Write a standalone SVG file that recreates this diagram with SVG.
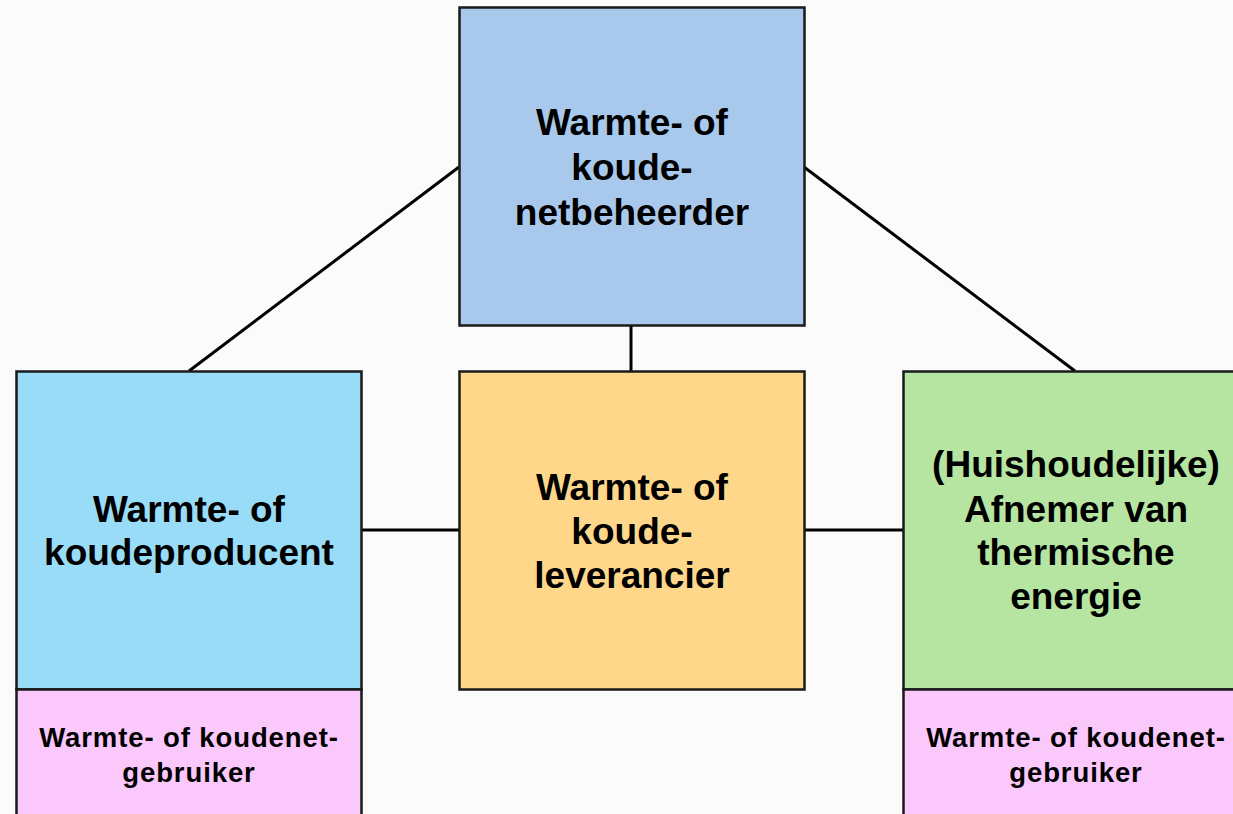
<svg xmlns="http://www.w3.org/2000/svg" width="1233" height="814" viewBox="0 0 1233 814">
<style>
.box{stroke:#1a1a1a;stroke-width:2.5}
.t{font-family:"Liberation Sans",Arial,sans-serif;font-weight:bold;font-size:37px;fill:#000;text-anchor:middle}
.s{font-family:"Liberation Sans",Arial,sans-serif;font-weight:bold;font-size:27.5px;letter-spacing:0.9px;fill:#000;text-anchor:middle}
.c{stroke:#000;stroke-width:3;fill:none}
</style>
<rect width="1233" height="814" fill="#fbfbfb"/>
<g id="connectors">
<line class="c" x1="459" y1="167" x2="189" y2="371"/>
<line class="c" x1="804" y1="167" x2="1075" y2="371"/>
<line class="c" x1="631" y1="325" x2="631" y2="371"/>
<line class="c" x1="361" y1="530" x2="459" y2="530"/>
<line class="c" x1="804" y1="530" x2="903" y2="530"/>
</g>
<g id="netbeheerder">
<rect class="box" x="459.5" y="7.5" width="345" height="318" fill="#a8c9ec"/>
<text class="t" x="632" y="135">Warmte- of</text>
<text class="t" x="632" y="180">koude-</text>
<text class="t" x="632" y="225">netbeheerder</text>
</g>
<g id="producent">
<rect class="box" x="16.5" y="371.5" width="345" height="318" fill="#99dcf7"/>
<text class="t" x="189" y="521.5">Warmte- of</text>
<text class="t" x="189" y="565">koudeproducent</text>
</g>
<g id="producent-gebruiker">
<rect class="box" x="16.5" y="689.5" width="345" height="140" fill="#fbc8fb"/>
<text class="s" x="189" y="746.5">Warmte- of koudenet-</text>
<text class="s" x="189" y="781.5">gebruiker</text>
</g>
<g id="leverancier">
<rect class="box" x="459.5" y="371.5" width="345" height="318" fill="#fed78b"/>
<text class="t" x="632" y="500">Warmte- of</text>
<text class="t" x="632" y="544">koude-</text>
<text class="t" x="632" y="588">leverancier</text>
</g>
<g id="afnemer">
<rect class="box" x="903.5" y="371.5" width="345" height="318" fill="#b6e5a2"/>
<text class="t" x="1076" y="477">(Huishoudelijke)</text>
<text class="t" x="1076" y="521.5">Afnemer van</text>
<text class="t" x="1076" y="565">thermische</text>
<text class="t" x="1076" y="608.5">energie</text>
</g>
<g id="afnemer-gebruiker">
<rect class="box" x="903.5" y="689.5" width="345" height="140" fill="#fbc8fb"/>
<text class="s" x="1076" y="746.5">Warmte- of koudenet-</text>
<text class="s" x="1076" y="781.5">gebruiker</text>
</g>
</svg>
